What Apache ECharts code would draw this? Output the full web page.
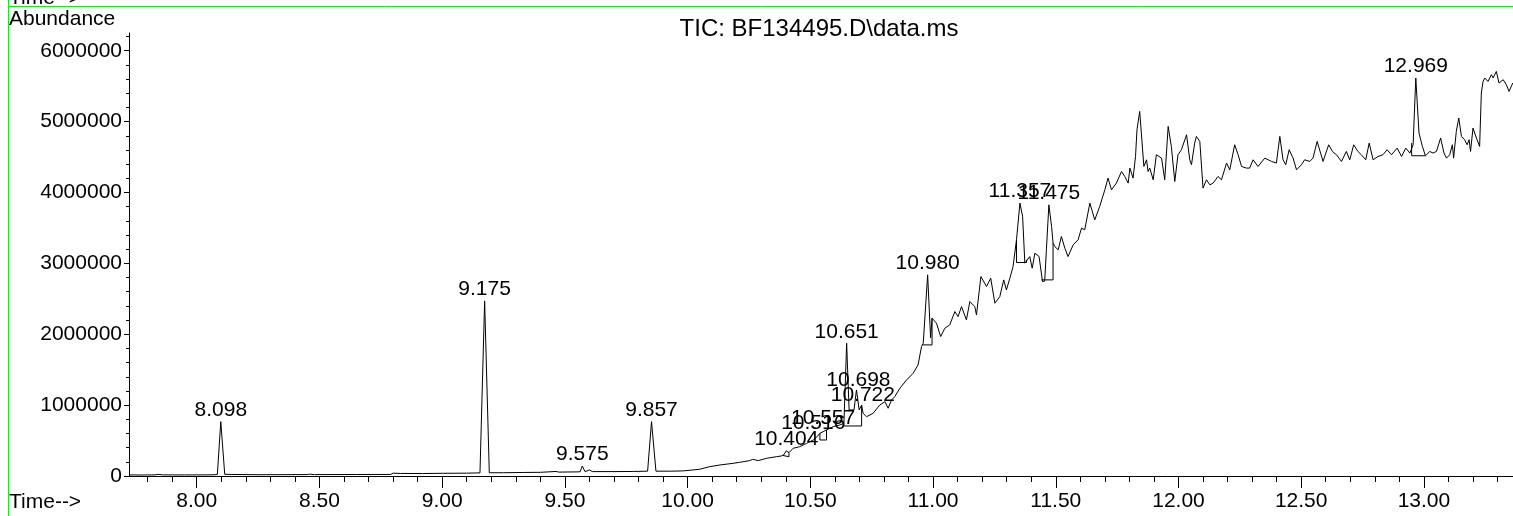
<!DOCTYPE html>
<html>
<head>
<meta charset="utf-8">
<script src="https://cdn.jsdelivr.net/npm/echarts@6/dist/echarts.min.js"></script>
<style>
  html, body { margin: 0; padding: 0; background: #fff; }
  #chart { width: 1513px; height: 516px; }
</style>
</head>
<body>
<div id="chart"></div>
<script>
// TIC trace: [time (min), abundance]
const traceEarly = [
  [7.724, 15000], [7.78, 14000], [7.83, 16000], [7.843, 24000], [7.86, 16000],
  [7.95, 15000], [8.03, 16000], [8.07, 17000], [8.084, 22000], [8.098, 767000],
  [8.114, 24000], [8.14, 22000], [8.25, 18000], [8.45, 20000], [8.46, 26000],
  [8.48, 20000], [8.65, 21000], [8.79, 22000], [8.80, 40000], [8.83, 36000],
  [8.92, 35000], [9.0, 38000], [9.10, 40000], [9.154, 44000], [9.173, 2470000],
  [9.192, 46000], [9.25, 46000], [9.33, 50000], [9.40, 52000], [9.464, 64000],
  [9.475, 55000], [9.55, 58000], [9.562, 60000], [9.571, 141000], [9.582, 62000],
  [9.60, 85000], [9.612, 62000], [9.70, 62000], [9.78, 64000], [9.837, 68000],
  [9.853, 767000], [9.871, 68000], [9.93, 68000]
]

const traceRise = [
  [9.982, 72000], [10.03, 88000], [10.049, 95000], [10.09, 132000], [10.131, 155000],
  [10.186, 179000], [10.212, 193000], [10.253, 217000], [10.265, 235000], [10.288, 217000],
  [10.322, 250000], [10.363, 273000], [10.383, 283000], [10.392, 300000], [10.402, 355000],
  [10.413, 330000], [10.43, 391000], [10.457, 414000], [10.485, 461000], [10.512, 508000],
  [10.525, 546000], [10.539, 603000], [10.552, 626000], [10.566, 650000], [10.593, 696000],
  [10.62, 720000], [10.637, 744000], [10.648, 1873000], [10.658, 932000], [10.678, 932000],
  [10.688, 1214000], [10.699, 932000], [10.709, 1000000], [10.715, 885000], [10.729, 837000],
  [10.756, 885000], [10.783, 1002000], [10.804, 1049000], [10.817, 956000], [10.831, 1073000],
  [10.844, 1120000], [10.865, 1238000], [10.892, 1355000], [10.919, 1450000], [10.939, 1567000],
  [10.953, 1826000], [10.96, 1873000], [10.978, 2838000], [10.99, 1950000], [10.996, 2226000]
]

const traceLate = [
  [11.003, 2226000], [11.014, 2156000], [11.031, 1967000], [11.048, 2085000], [11.068, 2132000],
  [11.089, 2320000], [11.102, 2249000], [11.116, 2390000], [11.136, 2203000], [11.150, 2461000],
  [11.170, 2390000], [11.177, 2273000], [11.195, 2814000], [11.218, 2673000], [11.235, 2791000],
  [11.252, 2438000], [11.272, 2531000], [11.288, 2767000], [11.299, 2626000], [11.313, 2791000],
  [11.326, 2955000], [11.340, 3332000], [11.354, 3850000], [11.365, 3661000], [11.374, 3003000],
  [11.394, 3096000], [11.404, 2932000], [11.415, 3144000], [11.432, 3096000], [11.446, 2743000],
  [11.455, 2750000], [11.462, 3200000], [11.472, 3826000], [11.483, 3520000], [11.489, 3285000],
  [11.496, 3237000], [11.510, 3191000], [11.523, 3379000], [11.537, 3215000], [11.550, 3096000],
  [11.571, 3261000], [11.591, 3332000], [11.605, 3497000], [11.618, 3473000], [11.639, 3850000],
  [11.659, 3614000], [11.679, 3802000], [11.700, 4038000], [11.713, 4203000], [11.727, 4038000],
  [11.747, 4132000], [11.768, 4296000], [11.781, 4226000], [11.795, 4132000], [11.802, 4344000],
  [11.815, 4203000], [11.825, 4508000], [11.831, 4885000], [11.842, 5143000], [11.859, 4367000],
  [11.870, 4461000], [11.876, 4296000], [11.883, 4344000], [11.897, 4179000], [11.910, 4532000],
  [11.931, 4485000], [11.944, 4179000], [11.958, 4932000], [11.971, 4649000], [11.985, 4155000],
  [11.998, 4532000], [12.012, 4603000], [12.033, 4814000], [12.046, 4461000], [12.053, 4391000],
  [12.066, 4697000], [12.073, 4791000], [12.087, 4720000], [12.100, 4062000], [12.114, 4179000],
  [12.128, 4108000], [12.141, 4132000], [12.161, 4226000], [12.175, 4179000], [12.196, 4415000],
  [12.209, 4320000], [12.229, 4673000], [12.243, 4532000], [12.257, 4367000], [12.277, 4344000],
  [12.290, 4344000], [12.304, 4461000], [12.324, 4367000], [12.352, 4485000], [12.379, 4438000],
  [12.399, 4415000], [12.413, 4791000], [12.426, 4461000], [12.437, 4391000], [12.451, 4603000],
  [12.467, 4485000], [12.481, 4320000], [12.501, 4391000], [12.514, 4461000], [12.535, 4438000],
  [12.548, 4485000], [12.565, 4720000], [12.589, 4438000], [12.612, 4673000], [12.627, 4579000],
  [12.644, 4532000], [12.664, 4438000], [12.684, 4579000], [12.698, 4461000], [12.714, 4673000],
  [12.731, 4579000], [12.745, 4532000], [12.763, 4461000], [12.777, 4697000], [12.793, 4461000],
  [12.813, 4508000], [12.833, 4532000], [12.850, 4603000], [12.868, 4532000], [12.891, 4626000],
  [12.909, 4508000], [12.926, 4626000], [12.943, 4556000], [12.956, 4673000], [12.967, 5615000],
  [12.980, 4838000], [12.994, 4649000], [13.006, 4518000], [13.024, 4579000], [13.037, 4556000],
  [13.051, 4579000], [13.068, 4768000], [13.082, 4556000], [13.092, 4485000], [13.105, 4532000],
  [13.116, 4673000], [13.121, 4485000], [13.132, 4861000], [13.142, 5050000], [13.153, 4791000],
  [13.166, 4744000], [13.176, 4673000], [13.184, 4744000], [13.190, 4579000], [13.200, 4909000],
  [13.214, 4768000], [13.227, 4649000], [13.234, 5403000], [13.241, 5567000], [13.248, 5615000],
  [13.261, 5567000], [13.275, 5662000], [13.282, 5615000], [13.295, 5708000], [13.306, 5544000],
  [13.323, 5591000], [13.336, 5520000], [13.347, 5426000], [13.362, 5544000]
]

// integration baselines: [start, end, base, left top, right top]
const peakBaselines = [
  [10.388, 10.413, 272000, 290000, 330000],
  [10.539, 10.566, 508000, 603000, 650000],
  [10.634, 10.709, 706000, 744000, 1000000],
  [10.957, 10.996, 1849000, 1850000, 2226000],
  [11.340, 11.381, 3012000, 3332000, 3050000],
  [11.442, 11.489, 2767000, 2767000, 3285000],
  [12.950, 13.006, 4518000, 4697000, 4518000]
]

// labelled peaks: [time, apex abundance, label]
const peakLabels = [
  [8.098, 767000, '8.098'],
  [9.173, 2470000, '9.175'],
  [9.571, 141000, '9.575'],
  [9.853, 767000, '9.857'],
  [10.402, 355000, '10.404'],
  [10.512, 579000, '10.516'],
  [10.552, 650000, '10.557'],
  [10.648, 1873000, '10.651'],
  [10.696, 1186000, '10.698'],
  [10.714, 974000, '10.722'],
  [10.978, 2838000, '10.980'],
  [11.354, 3850000, '11.357'],
  [11.472, 3826000, '11.475'],
  [12.967, 5615000, '12.969']
]

const xLabelTicks = [8.0, 8.5, 9.0, 9.5, 10.0, 10.5, 11.0, 11.5, 12.0, 12.5, 13.0]
const xMinorTicks = [7.8, 7.9, 8.0, 8.1, 8.2, 8.3, 8.4, 8.5, 8.6, 8.7, 8.8, 8.9, 9.0, 9.1, 9.2, 9.3,
  9.4, 9.5, 9.6, 9.7, 9.8, 9.9, 10.0, 10.1, 10.2, 10.3, 10.4, 10.5, 10.6, 10.7, 10.8, 10.9, 11.0,
  11.1, 11.2, 11.3, 11.4, 11.5, 11.6, 11.7, 11.8, 11.9, 12.0, 12.1, 12.2, 12.3, 12.4, 12.5, 12.6,
  12.7, 12.8, 12.9, 13.0, 13.1, 13.2, 13.3]
const yLabelTicks = [0, 1000000, 2000000, 3000000, 4000000, 5000000, 6000000]
const yMinorTicks = []
for (let v = 0; v <= 6200000; v += 200000) yMinorTicks.push(v)

const X_MIN = 7.724, X_MAX = 13.363
const Y_MIN = 0, Y_MAX = 6250000
const FONT = '"Liberation Sans", Arial, sans-serif'

const trace = traceEarly.concat(traceRise, traceLate)

const baselinePts = []
peakBaselines.forEach(([t0, t1, base, lt, rt]) => {
  baselinePts.push([t0, lt], [t0, base], [t1, base], [t1, rt], ['-', '-'])
})

const chart = echarts.init(document.getElementById('chart'), null, { renderer: 'canvas' })

const axisLine = { show: true, lineStyle: { color: '#000', width: 1 } }

chart.setOption({
  animation: false,
  backgroundColor: '#fff',
  grid: { left: 129, right: 0, top: 33, bottom: 40 },
  xAxis: [{
    type: 'value', min: X_MIN, max: X_MAX,
    axisLine,
    axisTick: { show: true, length: 6, customValues: xMinorTicks, lineStyle: { color: '#000' } },
    axisLabel: {
      customValues: xLabelTicks, margin: 15, color: '#000', fontSize: 21, fontFamily: FONT,
      formatter: v => v.toFixed(2)
    },
    splitLine: { show: false }
  }, {
    type: 'value', min: X_MIN, max: X_MAX, position: 'bottom',
    axisLine: { show: false },
    axisTick: { show: true, length: 12, customValues: xLabelTicks, lineStyle: { color: '#000' } },
    axisLabel: { show: false },
    splitLine: { show: false }
  }],
  yAxis: [{
    type: 'value', min: Y_MIN, max: Y_MAX,
    axisLine,
    axisTick: { show: true, length: 5, customValues: yLabelTicks, lineStyle: { color: '#000' } },
    axisLabel: {
      customValues: yLabelTicks, margin: 7, color: '#000', fontSize: 21, fontFamily: FONT,
      formatter: v => String(v)
    },
    splitLine: { show: false }
  }, {
    type: 'value', min: Y_MIN, max: Y_MAX, position: 'left',
    axisLine: { show: false },
    axisTick: { show: true, length: 3, customValues: yMinorTicks, lineStyle: { color: '#000' } },
    axisLabel: { show: false },
    splitLine: { show: false }
  }],
  graphic: [
    { type: 'line', shape: { x1: 8.5, y1: 0, x2: 8.5, y2: 516 }, style: { stroke: '#22e022', lineWidth: 1 } },
    { type: 'line', shape: { x1: 8.5, y1: 6.5, x2: 1513, y2: 6.5 }, style: { stroke: '#22e022', lineWidth: 1 } },
    { type: 'text', left: 9, top: -12, style: { text: 'Time-->', fill: '#000', font: '21px ' + FONT } },
    { type: 'text', left: 9, top: 9, style: { text: 'Abundance', fill: '#000', font: '21px ' + FONT } },
    { type: 'text', left: 9, top: 492, style: { text: 'Time-->', fill: '#000', font: '21px ' + FONT } },
    { type: 'text', x: 819, y: 17, style: { text: 'TIC: BF134495.D\\data.ms', fill: '#000', font: '24px ' + FONT, textAlign: 'center' } }
  ],
  series: [{
    type: 'line',
    data: trace,
    showSymbol: false,
    lineStyle: { color: '#000', width: 1 },
    silent: true
  }, {
    type: 'line',
    data: baselinePts,
    showSymbol: false,
    connectNulls: false,
    lineStyle: { color: '#000', width: 1 },
    silent: true
  }, {
    type: 'scatter',
    data: peakLabels,
    symbolSize: 0,
    itemStyle: { opacity: 1 },
    label: {
      show: true, position: 'top', distance: 1, color: '#000', fontSize: 21, fontFamily: FONT,
      formatter: p => p.value[2]
    },
    silent: true
  }]
})
</script>
</body>
</html>
